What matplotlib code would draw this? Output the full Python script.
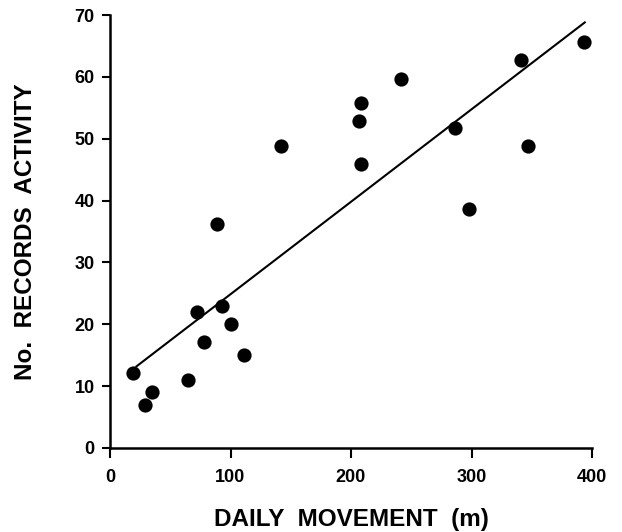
import matplotlib
matplotlib.use("Agg")
import matplotlib.pyplot as plt
import numpy as np

# Data
daily_movement = [19.4, 29, 35, 64.5, 72, 78, 88.5, 93, 100.5, 111, 142,
                  206.5, 208.5, 208.5, 241.5, 286.5, 298, 341, 346.5, 393.5]
records_activity = [12.1, 6.9, 9.0, 11.0, 22.0, 17.1, 36.2, 23.0, 20.0, 15.0, 48.9,
                    52.8, 55.8, 45.9, 59.7, 51.8, 38.7, 62.7, 48.8, 65.6]

fit_x = [22, 394]
fit_y = [13.2, 68.8]

x_ticks = [0, 100, 200, 300, 400]
y_ticks = [0, 10, 20, 30, 40, 50, 60, 70]

plt.rcParams['font.family'] = ['Liberation Sans', 'DejaVu Sans']

fig = plt.figure(figsize=(6.22, 5.32), dpi=100)
ax = fig.add_axes([110/622, 1-448/532, (592-110)/622, (448-15)/532])

ax.scatter(daily_movement, records_activity, s=105, color='black', zorder=3, linewidths=0)
ax.plot(fit_x, fit_y, color='black', linewidth=1.5)

ax.set_xlim(0, 400)
ax.set_ylim(0, 70)
ax.set_xticks(x_ticks)
ax.set_yticks(y_ticks)
ax.tick_params(axis='both', direction='out', width=1.5, labelsize=13, color='black')
ax.tick_params(axis='x', length=7, pad=8)
ax.tick_params(axis='y', length=6, pad=5)
for lab in ax.get_xticklabels() + ax.get_yticklabels():
    lab.set_fontweight('bold')

for s in ['top', 'right']:
    ax.spines[s].set_visible(False)
for s in ['left', 'bottom']:
    ax.spines[s].set_linewidth(1.8)

ax.set_xlabel('DAILY  MOVEMENT  (m)', fontsize=17.5, fontweight='bold', labelpad=16)
ax.set_ylabel('No.  RECORDS  ACTIVITY', fontsize=17.5, fontweight='bold', labelpad=27)

fig.savefig('out.png', dpi=100)
